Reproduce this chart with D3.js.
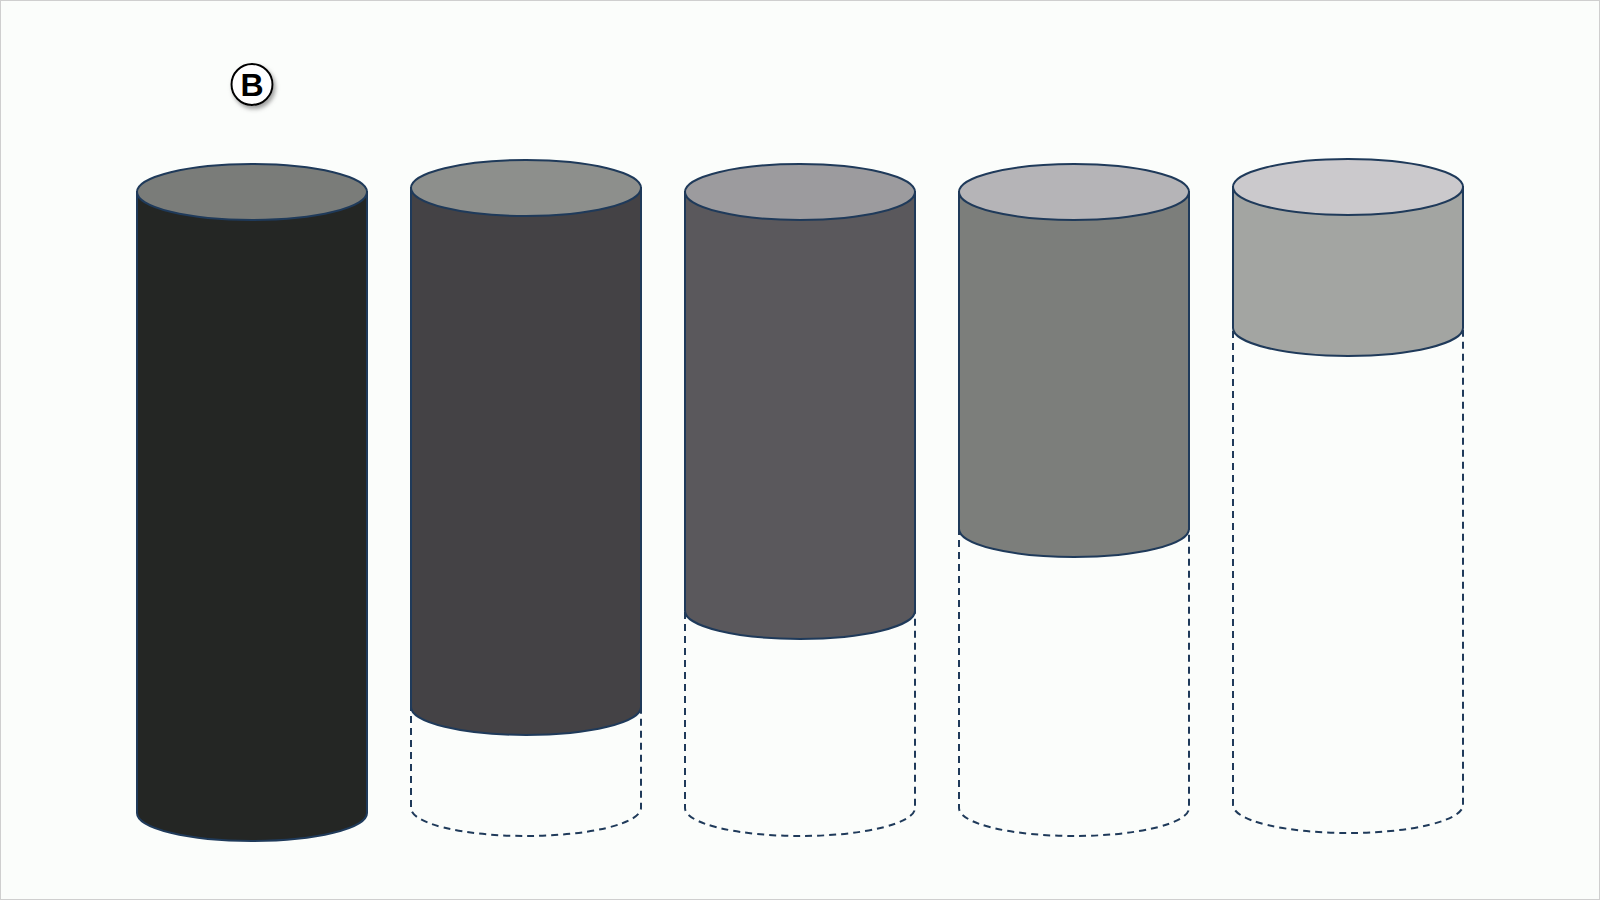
<!DOCTYPE html>
<html>
<head>
<meta charset="utf-8">
<script src="https://cdn.jsdelivr.net/npm/d3@7"></script>
<style>
  html, body { margin: 0; padding: 0; background: #fbfdfb; }
  svg { display: block; }
</style>
</head>
<body>
<script>
// ---- data ----
const categories = ["1", "2", "3", "4", "5"];
const values = [100, 83.7, 68, 54.7, 22.8];
const maxValue = 100;
const sideColors = ["#242624", "#444245", "#5a585c", "#7c7e7b", "#a3a5a2"];
const topColors  = ["#7a7c79", "#8d8f8c", "#9c9b9e", "#b5b4b7", "#cbc9cc"];
const panelLabel = "B";

// ---- layout ----
const W = 1600, H = 900;
const rx = 115, ry = 28;
const topY = [192, 188, 192, 192, 187];
const botY = [813, 808, 808, 808, 805];
const strokeCol = "#1f3a5a";

const svg = d3.select("body").append("svg").attr("width", W).attr("height", H);

svg.append("rect").attr("x", 0.5).attr("y", 0.5).attr("width", W - 1).attr("height", H - 1)
  .attr("fill", "#fbfdfb").attr("stroke", "#cfcfcf").attr("stroke-width", 1);

const defs = svg.append("defs");
const f = defs.append("filter").attr("id", "sh").attr("x", "-50%").attr("y", "-50%").attr("width", "200%").attr("height", "200%");
f.append("feDropShadow").attr("dx", 2).attr("dy", 3).attr("stdDeviation", 2).attr("flood-color", "#777").attr("flood-opacity", 0.7);

const x = d3.scalePoint().domain(categories).range([252, 1348]);

const g = svg.append("g");
categories.forEach((c, i) => {
  const cx = x(c);
  const y = d3.scaleLinear().domain([0, maxValue]).range([botY[i], topY[i]]);
  const yTop = y(maxValue), yBot = y(0), yFill = y(maxValue - values[i]);
  const cg = g.append("g");
  // dashed outline of full capacity
  if (values[i] < maxValue) {
    cg.append("path")
      .attr("d", `M${cx - rx},${yTop} L${cx - rx},${yBot} A${rx},${ry} 0 0 0 ${cx + rx},${yBot} L${cx + rx},${yTop}`)
      .attr("fill", "none").attr("stroke", strokeCol).attr("stroke-width", 2)
      .attr("stroke-dasharray", "7,5");
  }
  // filled body
  cg.append("path")
    .attr("d", `M${cx - rx},${yTop} L${cx - rx},${yFill} A${rx},${ry} 0 0 0 ${cx + rx},${yFill} L${cx + rx},${yTop} Z`)
    .attr("fill", sideColors[i]).attr("stroke", strokeCol).attr("stroke-width", 2);
  // top ellipse
  cg.append("ellipse")
    .attr("cx", cx).attr("cy", yTop).attr("rx", rx).attr("ry", ry)
    .attr("fill", topColors[i]).attr("stroke", strokeCol).attr("stroke-width", 2);
});

// panel label
const lg = svg.append("g").attr("transform", `translate(${x(categories[0])},84.5)`);
lg.append("circle").attr("r", 20.5).attr("fill", "#ffffff").attr("stroke", "#000").attr("stroke-width", 2)
  .attr("filter", "url(#sh)");
lg.append("text").attr("text-anchor", "middle").attr("y", 11.5)
  .attr("font-family", "Liberation Sans, Arial, sans-serif").attr("font-weight", "bold").attr("font-size", 32)
  .attr("fill", "#000").text(panelLabel);
</script>
</body>
</html>
